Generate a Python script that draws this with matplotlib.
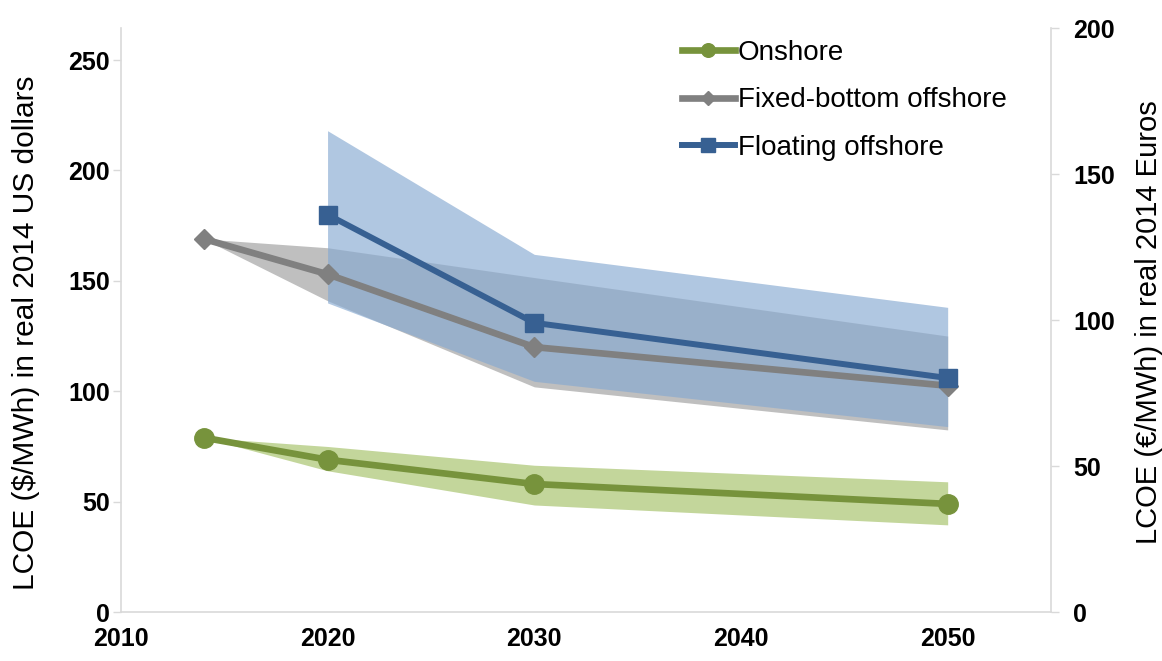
import matplotlib
matplotlib.use("Agg")
import matplotlib.pyplot as plt

plt.rcParams['font.family'] = ['Liberation Sans', 'DejaVu Sans']

# Onshore
on_years = [2014, 2020, 2030, 2050]
on_mid = [79, 69, 58, 49]
on_low = [79, 64, 48.5, 39.5]
on_high = [79, 75, 66.5, 59]

# Fixed-bottom offshore
fx_years = [2014, 2020, 2030, 2050]
fx_mid = [169, 153, 120, 102.5]
fx_low = [169, 141, 102, 82.5]
fx_high = [169, 165, 151.5, 125]

# Floating offshore
fl_years = [2020, 2030, 2050]
fl_mid = [180, 131, 106]
fl_low = [140, 104.5, 84]
fl_high = [218, 162, 138]

x_ticks = [2010, 2020, 2030, 2040, 2050]
left_ticks = [0, 50, 100, 150, 200, 250]
right_ticks = [0, 50, 100, 150, 200]
usd_per_eur = 1.3225

fig = plt.figure(figsize=(11.62, 6.61), dpi=100)
ax = fig.add_axes([0.104, 0.074, 0.8005, 0.8836])
ax2 = ax.twinx()

ax.fill_between(fx_years, fx_low, fx_high, color='#BFBFBF', lw=0, zorder=1)
ax.fill_between(fl_years, fl_low, fl_high, color='#86A9D1', alpha=0.65, lw=0, zorder=2)
ax.fill_between(on_years, on_low, on_high, color='#C3D69B', lw=0, zorder=2)

ax.plot(on_years, on_mid, color='#77933C', lw=4.8, marker='o', ms=14, label='Onshore', zorder=5)
ax.plot(fx_years, fx_mid, color='#808080', lw=4.8, marker='D', ms=10.5, label='Fixed-bottom offshore', zorder=5)
ax.plot(fl_years, fl_mid, color='#376092', lw=4.3, marker='s', ms=13.5, label='Floating offshore', zorder=6)

ax.set_xlim(2010, 2055)
ax.set_ylim(0, 200 * usd_per_eur)
ax2.set_ylim(0, 200)

ax.set_xticks(x_ticks)
ax.set_yticks(left_ticks)
ax2.set_yticks(right_ticks)

for a in (ax, ax2):
    for s in a.spines.values():
        s.set_visible(False)
ax.spines['left'].set_visible(True)
ax.spines['bottom'].set_visible(True)
ax2.spines['right'].set_visible(True)
for s in (ax.spines['left'], ax.spines['bottom'], ax2.spines['right']):
    s.set_color('#D9D9D9')
    s.set_linewidth(1.2)

ax.tick_params(axis='x', length=0, pad=11, labelsize=18)
ax.tick_params(axis='y', length=6, color='#D9D9D9', width=1, pad=2, labelsize=18)
ax2.tick_params(axis='y', length=6, color='#D9D9D9', width=1, pad=10, labelsize=18)
for lab in ax.get_xticklabels() + ax.get_yticklabels() + ax2.get_yticklabels():
    lab.set_fontweight('bold')

ax.set_ylabel('LCOE ($/MWh) in real 2014 US dollars', fontsize=21.5)
ax.yaxis.set_label_coords(-0.087, 0.479)
ax2.set_ylabel('LCOE (€/MWh) in real 2014 Euros', fontsize=21)
ax2.yaxis.set_label_coords(1.0905, 0.497)

leg = ax.legend(loc='upper left', bbox_to_anchor=(0.603, 0.98), frameon=False,
                borderpad=0, borderaxespad=0,
                fontsize=20, handlelength=1.9, handletextpad=0.12, labelspacing=0.78,
                markerscale=0.7)

fig.savefig('out.png', dpi=100)
